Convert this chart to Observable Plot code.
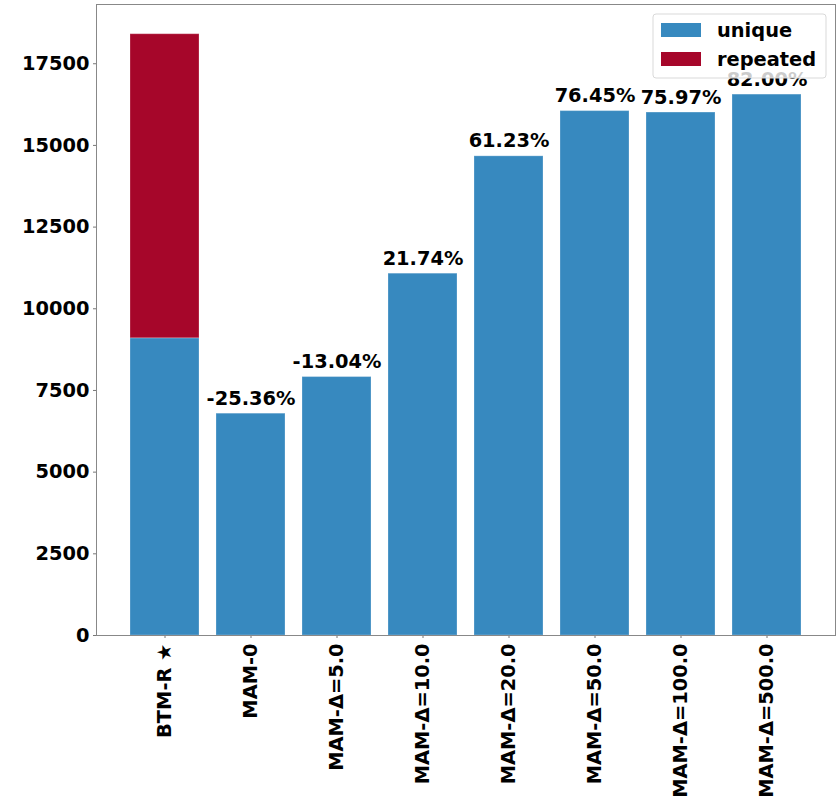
<!DOCTYPE html>
<html>
<head>
<meta charset="utf-8">
<script src="https://cdn.jsdelivr.net/npm/d3@7"></script>
<script src="https://cdn.jsdelivr.net/npm/@observablehq/plot@0.6"></script>
<style>
  html, body { margin: 0; padding: 0; background: #ffffff; }
  #chart svg { display: block; }
</style>
</head>
<body>
<div id="chart"></div>
<script>
// Methods compared
const methods = ["BTM-R ★", "MAM-0", "MAM-Δ=5.0", "MAM-Δ=10.0", "MAM-Δ=20.0", "MAM-Δ=50.0", "MAM-Δ=100.0", "MAM-Δ=500.0"];
// Count of unique items per method
const uniqueCounts = [9096, 6789, 7910, 11074, 14666, 16050, 16006, 16555];
// Count of repeated items per method (only the baseline has repeats)
const repeatedCounts = [9307, 0, 0, 0, 0, 0, 0, 0];
// Relative change of unique count vs. the baseline, in percent
const changePct = [null, -25.36, -13.04, 21.74, 61.23, 76.45, 75.97, 82.00];
const yTicks = [0, 2500, 5000, 7500, 10000, 12500, 15000, 17500];
const kinds = ["unique", "repeated"];
const colors = ["#3789bf", "#a6062a"];

const rows = [];
methods.forEach((m, i) => {
  rows.push({method: m, kind: "unique", value: uniqueCounts[i]});
  if (repeatedCounts[i] > 0) rows.push({method: m, kind: "repeated", value: repeatedCounts[i]});
});
const labels = methods
  .map((m, i) => ({method: m, total: uniqueCounts[i] + repeatedCounts[i], pct: changePct[i]}))
  .filter(d => d.pct !== null);

const fontSize = 19.4;

const chart = Plot.plot({
  width: 838,
  height: 801,
  marginLeft: 96,
  marginRight: 3,
  marginTop: 4,
  marginBottom: 166,
  style: {fontFamily: "DejaVu Sans", fontWeight: "bold", fontSize: fontSize + "px", color: "#000", background: "#fff"},
  x: {domain: methods, paddingInner: 0.2, paddingOuter: 0.39, label: null},
  y: {domain: [0, 19313], label: null},
  color: {domain: kinds, range: colors},
  marks: [
    Plot.barY(rows, {x: "method", y: "value", fill: "kind", stroke: "#ffffff", strokeOpacity: 0.25, strokeWidth: 1}),
    Plot.text(labels, {
      x: "method", y: "total",
      text: d => d.pct.toFixed(2) + "%",
      lineAnchor: "bottom", dy: -9,
      fontSize: fontSize, fontWeight: "bold", fill: "#000"
    }),
    Plot.axisY({ticks: yTicks, tickFormat: d => String(d), tickSize: 3, tickPadding: 4, stroke: "#777", fontSize: fontSize, label: null}),
    Plot.axisX({tickRotate: -90, tickSize: 3, tickPadding: 5, stroke: "#777", fontSize: fontSize, label: null}),
    Plot.frame({stroke: "#888", strokeWidth: 1})
  ]
});

document.getElementById("chart").appendChild(chart);

// Legend box in the upper right corner, drawn over the plot area
const svg = d3.select(chart);
const lg = svg.append("g").attr("class", "legend").attr("text-anchor", "start");
lg.append("rect")
  .attr("x", 653).attr("y", 14).attr("width", 173).attr("height", 64)
  .attr("rx", 3).attr("fill", "#ffffff").attr("fill-opacity", 0.8)
  .attr("stroke", "#d9d9d9").attr("stroke-width", 1);
kinds.forEach((k, i) => {
  const y0 = 23 + i * 29;
  lg.append("rect")
    .attr("x", 661).attr("y", y0).attr("width", 40).attr("height", 14)
    .attr("fill", colors[i]);
  lg.append("text")
    .attr("x", 717).attr("y", y0 + 14)
    .attr("text-anchor", "start")
    .attr("font-family", "DejaVu Sans").attr("font-weight", "bold")
    .attr("font-size", fontSize).attr("fill", "#000")
    .text(k);
});
</script>
</body>
</html>
